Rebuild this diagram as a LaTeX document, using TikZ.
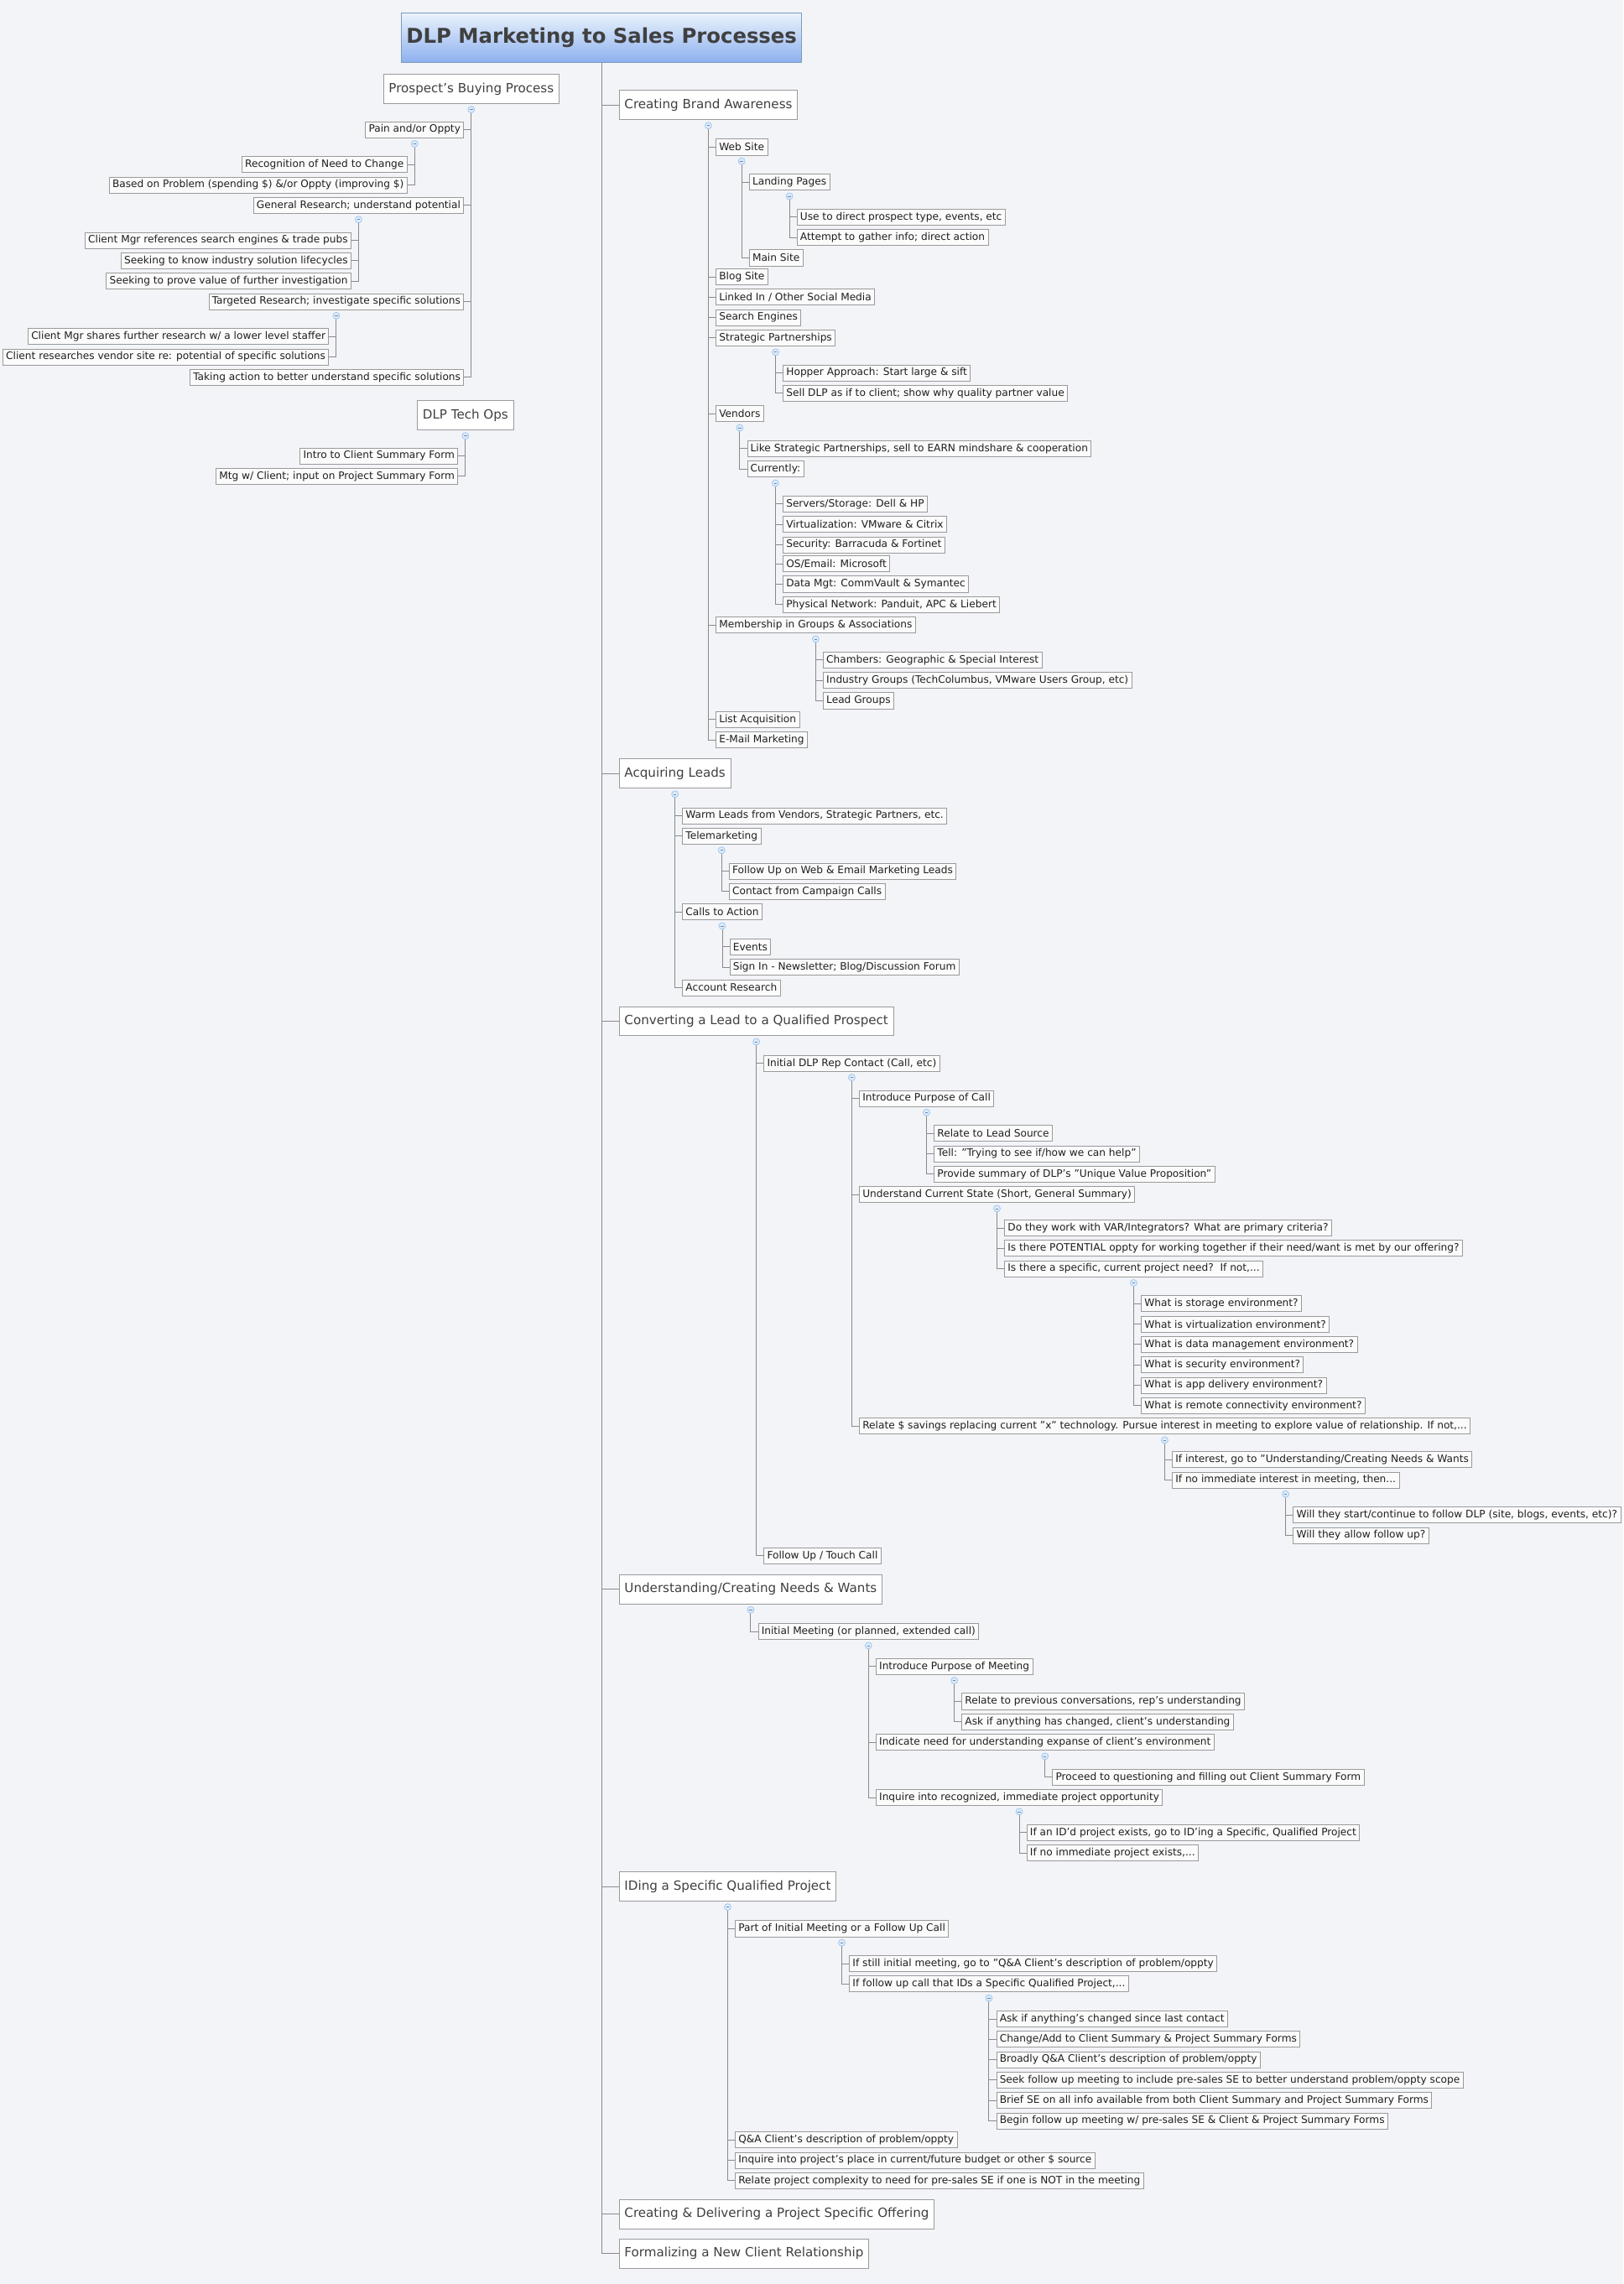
\documentclass[tikz,border=0pt]{standalone}
\usepackage{fontspec}
\setmainfont{DejaVu Sans}
\pgfdeclarelayer{bgzero}
\pgfdeclarelayer{lines}
\pgfsetlayers{bgzero,lines,main}
\definecolor{bgc}{HTML}{F2F4F8}
\definecolor{linec}{HTML}{8A8A8A}
\definecolor{boxc}{HTML}{9A9A9A}
\definecolor{mkc}{HTML}{9CC3EC}
\definecolor{mkf}{HTML}{DDEBFA}
\definecolor{txc}{HTML}{1E1E1E}
\tikzset{
 kid/.style={draw=boxc,fill=white!97!gray,text=txc,font=\fontsize{7}{8}\selectfont,inner xsep=2.2pt,inner ysep=0pt,minimum height=11pt},
 lvl/.style={draw=boxc,fill=white,text=txc!85,font=\fontsize{8.7}{10}\selectfont,inner xsep=3.5pt,inner ysep=0pt,minimum height=20pt},
 conn/.style={draw=linec,line width=0.5pt},
}
\newcommand\mrk[1]{\coordinate (m#1) at ([yshift=-4pt]#1.south);
 \filldraw[draw=mkc,fill=mkf,line width=0.4pt] (m#1) circle (2.3pt);
 \draw[mkc!70!black,line width=0.3pt] ([xshift=-1pt]m#1) -- ([xshift=1pt]m#1);}
\newcommand\kidR[4]{\node[kid,anchor=west,xshift=5pt] (#2) at (m#1 |- 0,#3) {#4};
 \begin{pgfonlayer}{lines}\draw[conn] (m#1) |- (#2.west);\end{pgfonlayer}}
\newcommand\kidL[4]{\node[kid,anchor=east,xshift=-5pt] (#2) at (m#1 |- 0,#3) {#4};
 \begin{pgfonlayer}{lines}\draw[conn] (m#1) |- (#2.east);\end{pgfonlayer}}
\newcommand\lvR[3]{\node[lvl,anchor=west] (#1) at (425,#2) {#3};
 \begin{pgfonlayer}{lines}\draw[conn] (trunk |- #1.west) -- (#1.west);\end{pgfonlayer}}
\begin{document}
\begin{tikzpicture}[x=1pt,y=-1pt]
\begin{pgfonlayer}{bgzero}
\fill[bgc] (0,0) rectangle (1114.4,1568);
\end{pgfonlayer}
\useasboundingbox (0,0) rectangle (1114.4,1568);
\node[draw=mkc!80!black,top color=mkf!60!white,bottom color=mkc!90!blue,minimum width=266pt,minimum height=34pt,font=\fontsize{14}{16}\selectfont\bfseries,text={black!75}] (title) at (413,26) {DLP Marketing to Sales Processes};
\coordinate (trunk) at (413,43);
\coordinate (trunkend) at (413,1547);
\begin{pgfonlayer}{lines}\draw[conn] (title.south) -- (trunkend);\end{pgfonlayer}
% ---------- left side
\node[lvl] (pbp) at (323.5,61) {Prospect's Buying Process};
\mrk{pbp}
\kidL{pbp}{pain}{89}{Pain and/or Oppty}
\mrk{pain}
\kidL{pain}{recog}{113}{Recognition of Need to Change}
\kidL{pain}{based}{127}{Based on Problem (spending \$) \&/or Oppty (improving \$)}
\kidL{pbp}{genr}{141}{General Research; understand potential}
\mrk{genr}
\kidL{genr}{cmref}{165}{Client Mgr references search engines \& trade pubs}
\kidL{genr}{seekk}{179}{Seeking to know industry solution lifecycles}
\kidL{genr}{seekp}{193}{Seeking to prove value of further investigation}
\kidL{pbp}{targ}{207}{Targeted Research; investigate specific solutions}
\mrk{targ}
\kidL{targ}{cmsh}{231}{Client Mgr shares further research w/ a lower level staffer}
\kidL{targ}{crvs}{245}{Client researches vendor site re: potential of specific solutions}
\kidL{pbp}{take}{259}{Taking action to better understand specific solutions}
\node[lvl] (tops) at (319.5,285) {DLP Tech Ops};
\mrk{tops}
\kidL{tops}{intro}{313}{Intro to Client Summary Form}
\kidL{tops}{mtg}{327}{Mtg w/ Client; input on Project Summary Form}
% ---------- Creating Brand Awareness
\lvR{cba}{72}{Creating Brand Awareness}
\mrk{cba}
\kidR{cba}{web}{101}{Web Site}
\mrk{web}
\kidR{web}{land}{125}{Landing Pages}
\mrk{land}
\kidR{land}{use}{149}{Use to direct prospect type, events, etc}
\kidR{land}{att}{163}{Attempt to gather info; direct action}
\kidR{web}{mains}{177}{Main Site}
\kidR{cba}{blog}{190}{Blog Site}
\kidR{cba}{link}{204}{Linked In / Other Social Media}
\kidR{cba}{seng}{218}{Search Engines}
\kidR{cba}{strat}{232}{Strategic Partnerships}
\mrk{strat}
\kidR{strat}{hop}{256}{Hopper Approach: Start large \& sift}
\kidR{strat}{sell}{270}{Sell DLP as if to client; show why quality partner value}
\kidR{cba}{vend}{284}{Vendors}
\mrk{vend}
\kidR{vend}{like}{308}{Like Strategic Partnerships, sell to EARN mindshare \& cooperation}
\kidR{vend}{curr}{322}{Currently:}
\mrk{curr}
\kidR{curr}{c1}{346}{Servers/Storage: Dell \& HP}
\kidR{curr}{c2}{360}{Virtualization: VMware \& Citrix}
\kidR{curr}{c3}{374}{Security: Barracuda \& Fortinet}
\kidR{curr}{c4}{387}{OS/Email: Microsoft}
\kidR{curr}{c5}{401}{Data Mgt: CommVault \& Symantec}
\kidR{curr}{c6}{415}{Physical Network: Panduit, APC \& Liebert}
\kidR{cba}{memb}{429}{Membership in Groups \& Associations}
\mrk{memb}
\kidR{memb}{cham}{453}{Chambers: Geographic \& Special Interest}
\kidR{memb}{indg}{467}{Industry Groups (TechColumbus, VMware Users Group, etc)}
\kidR{memb}{leadg}{481}{Lead Groups}
\kidR{cba}{lista}{494}{List Acquisition}
\kidR{cba}{emm}{508}{E-Mail Marketing}
% ---------- Acquiring Leads
\lvR{acq}{531}{Acquiring Leads}
\mrk{acq}
\kidR{acq}{warm}{560}{Warm Leads from Vendors, Strategic Partners, etc.}
\kidR{acq}{tele}{574}{Telemarketing}
\mrk{tele}
\kidR{tele}{fup}{598}{Follow Up on Web \& Email Marketing Leads}
\kidR{tele}{ccc}{612}{Contact from Campaign Calls}
\kidR{acq}{cta}{626}{Calls to Action}
\mrk{cta}
\kidR{cta}{evt}{650}{Events}
\kidR{cta}{sign}{664}{Sign In - Newsletter; Blog/Discussion Forum}
\kidR{acq}{accr}{678}{Account Research}
% ---------- Converting
\lvR{conv}{701}{Converting a Lead to a Qualified Prospect}
\mrk{conv}
\kidR{conv}{idrc}{730}{Initial DLP Rep Contact (Call, etc)}
\mrk{idrc}
\kidR{idrc}{ipc}{754}{Introduce Purpose of Call}
\mrk{ipc}
\kidR{ipc}{rls}{778}{Relate to Lead Source}
\kidR{ipc}{tell}{792}{Tell: "Trying to see if/how we can help"}
\kidR{ipc}{prov}{806}{Provide summary of DLP's "Unique Value Proposition"}
\kidR{idrc}{ucs}{820}{Understand Current State (Short, General Summary)}
\mrk{ucs}
\kidR{ucs}{var}{843}{Do they work with VAR/Integrators? What are primary criteria?}
\kidR{ucs}{pot}{857}{Is there POTENTIAL oppty for working together if their need/want is met by our offering?}
\kidR{ucs}{spec}{871}{Is there a specific, current project need?\ \ If not,...}
\mrk{spec}
\kidR{spec}{w1}{895}{What is storage environment?}
\kidR{spec}{w2}{909}{What is virtualization environment?}
\kidR{spec}{w3}{923}{What is data management environment?}
\kidR{spec}{w4}{937}{What is security environment?}
\kidR{spec}{w5}{951}{What is app delivery environment?}
\kidR{spec}{w6}{965}{What is remote connectivity environment?}
\kidR{idrc}{rel}{979}{Relate \$ savings replacing current "x" technology. Pursue interest in meeting to explore value of relationship. If not,...}
\mrk{rel}
\kidR{rel}{ifi}{1002}{If interest, go to "Understanding/Creating Needs \& Wants}
\kidR{rel}{ifn}{1016}{If no immediate interest in meeting, then...}
\mrk{ifn}
\kidR{ifn}{wst}{1040}{Will they start/continue to follow DLP (site, blogs, events, etc)?}
\kidR{ifn}{wal}{1054}{Will they allow follow up?}
\kidR{conv}{futc}{1068}{Follow Up / Touch Call}
% ---------- Understanding
\lvR{und}{1091}{Understanding/Creating Needs \& Wants}
\mrk{und}
\kidR{und}{imt}{1120}{Initial Meeting (or planned, extended call)}
\mrk{imt}
\kidR{imt}{ipm}{1144}{Introduce Purpose of Meeting}
\mrk{ipm}
\kidR{ipm}{rpc}{1168}{Relate to previous conversations, rep's understanding}
\kidR{ipm}{aac}{1182}{Ask if anything has changed, client's understanding}
\kidR{imt}{ind}{1196}{Indicate need for understanding expanse of client's environment}
\mrk{ind}
\kidR{ind}{proc}{1220}{Proceed to questioning and filling out Client Summary Form}
\kidR{imt}{inq}{1234}{Inquire into recognized, immediate project opportunity}
\mrk{inq}
\kidR{inq}{ifid}{1258}{If an ID'd project exists, go to ID'ing a Specific, Qualified Project}
\kidR{inq}{ifnp}{1272}{If no immediate project exists,...}
% ---------- IDing
\lvR{iding}{1295}{IDing a Specific Qualified Project}
\mrk{iding}
\kidR{iding}{poim}{1324}{Part of Initial Meeting or a Follow Up Call}
\mrk{poim}
\kidR{poim}{isim}{1348}{If still initial meeting, go to "Q\&A Client's description of problem/oppty}
\kidR{poim}{ifuc}{1362}{If follow up call that IDs a Specific Qualified Project,...}
\mrk{ifuc}
\kidR{ifuc}{d1}{1386}{Ask if anything's changed since last contact}
\kidR{ifuc}{d2}{1400}{Change/Add to Client Summary \& Project Summary Forms}
\kidR{ifuc}{d3}{1414}{Broadly Q\&A Client's description of problem/oppty}
\kidR{ifuc}{d4}{1428}{Seek follow up meeting to include pre-sales SE to better understand problem/oppty scope}
\kidR{ifuc}{d5}{1442}{Brief SE on all info available from both Client Summary and Project Summary Forms}
\kidR{ifuc}{d6}{1456}{Begin follow up meeting w/ pre-sales SE \& Client \& Project Summary Forms}
\kidR{iding}{qa}{1469}{Q\&A Client's description of problem/oppty}
\kidR{iding}{inqb}{1483}{Inquire into project's place in current/future budget or other \$ source}
\kidR{iding}{relc}{1497}{Relate project complexity to need for pre-sales SE if one is NOT in the meeting}
% ---------- last
\lvR{cdel}{1520}{Creating \& Delivering a Project Specific Offering}
\lvR{form}{1547}{Formalizing a New Client Relationship}
\end{tikzpicture}
\end{document}
